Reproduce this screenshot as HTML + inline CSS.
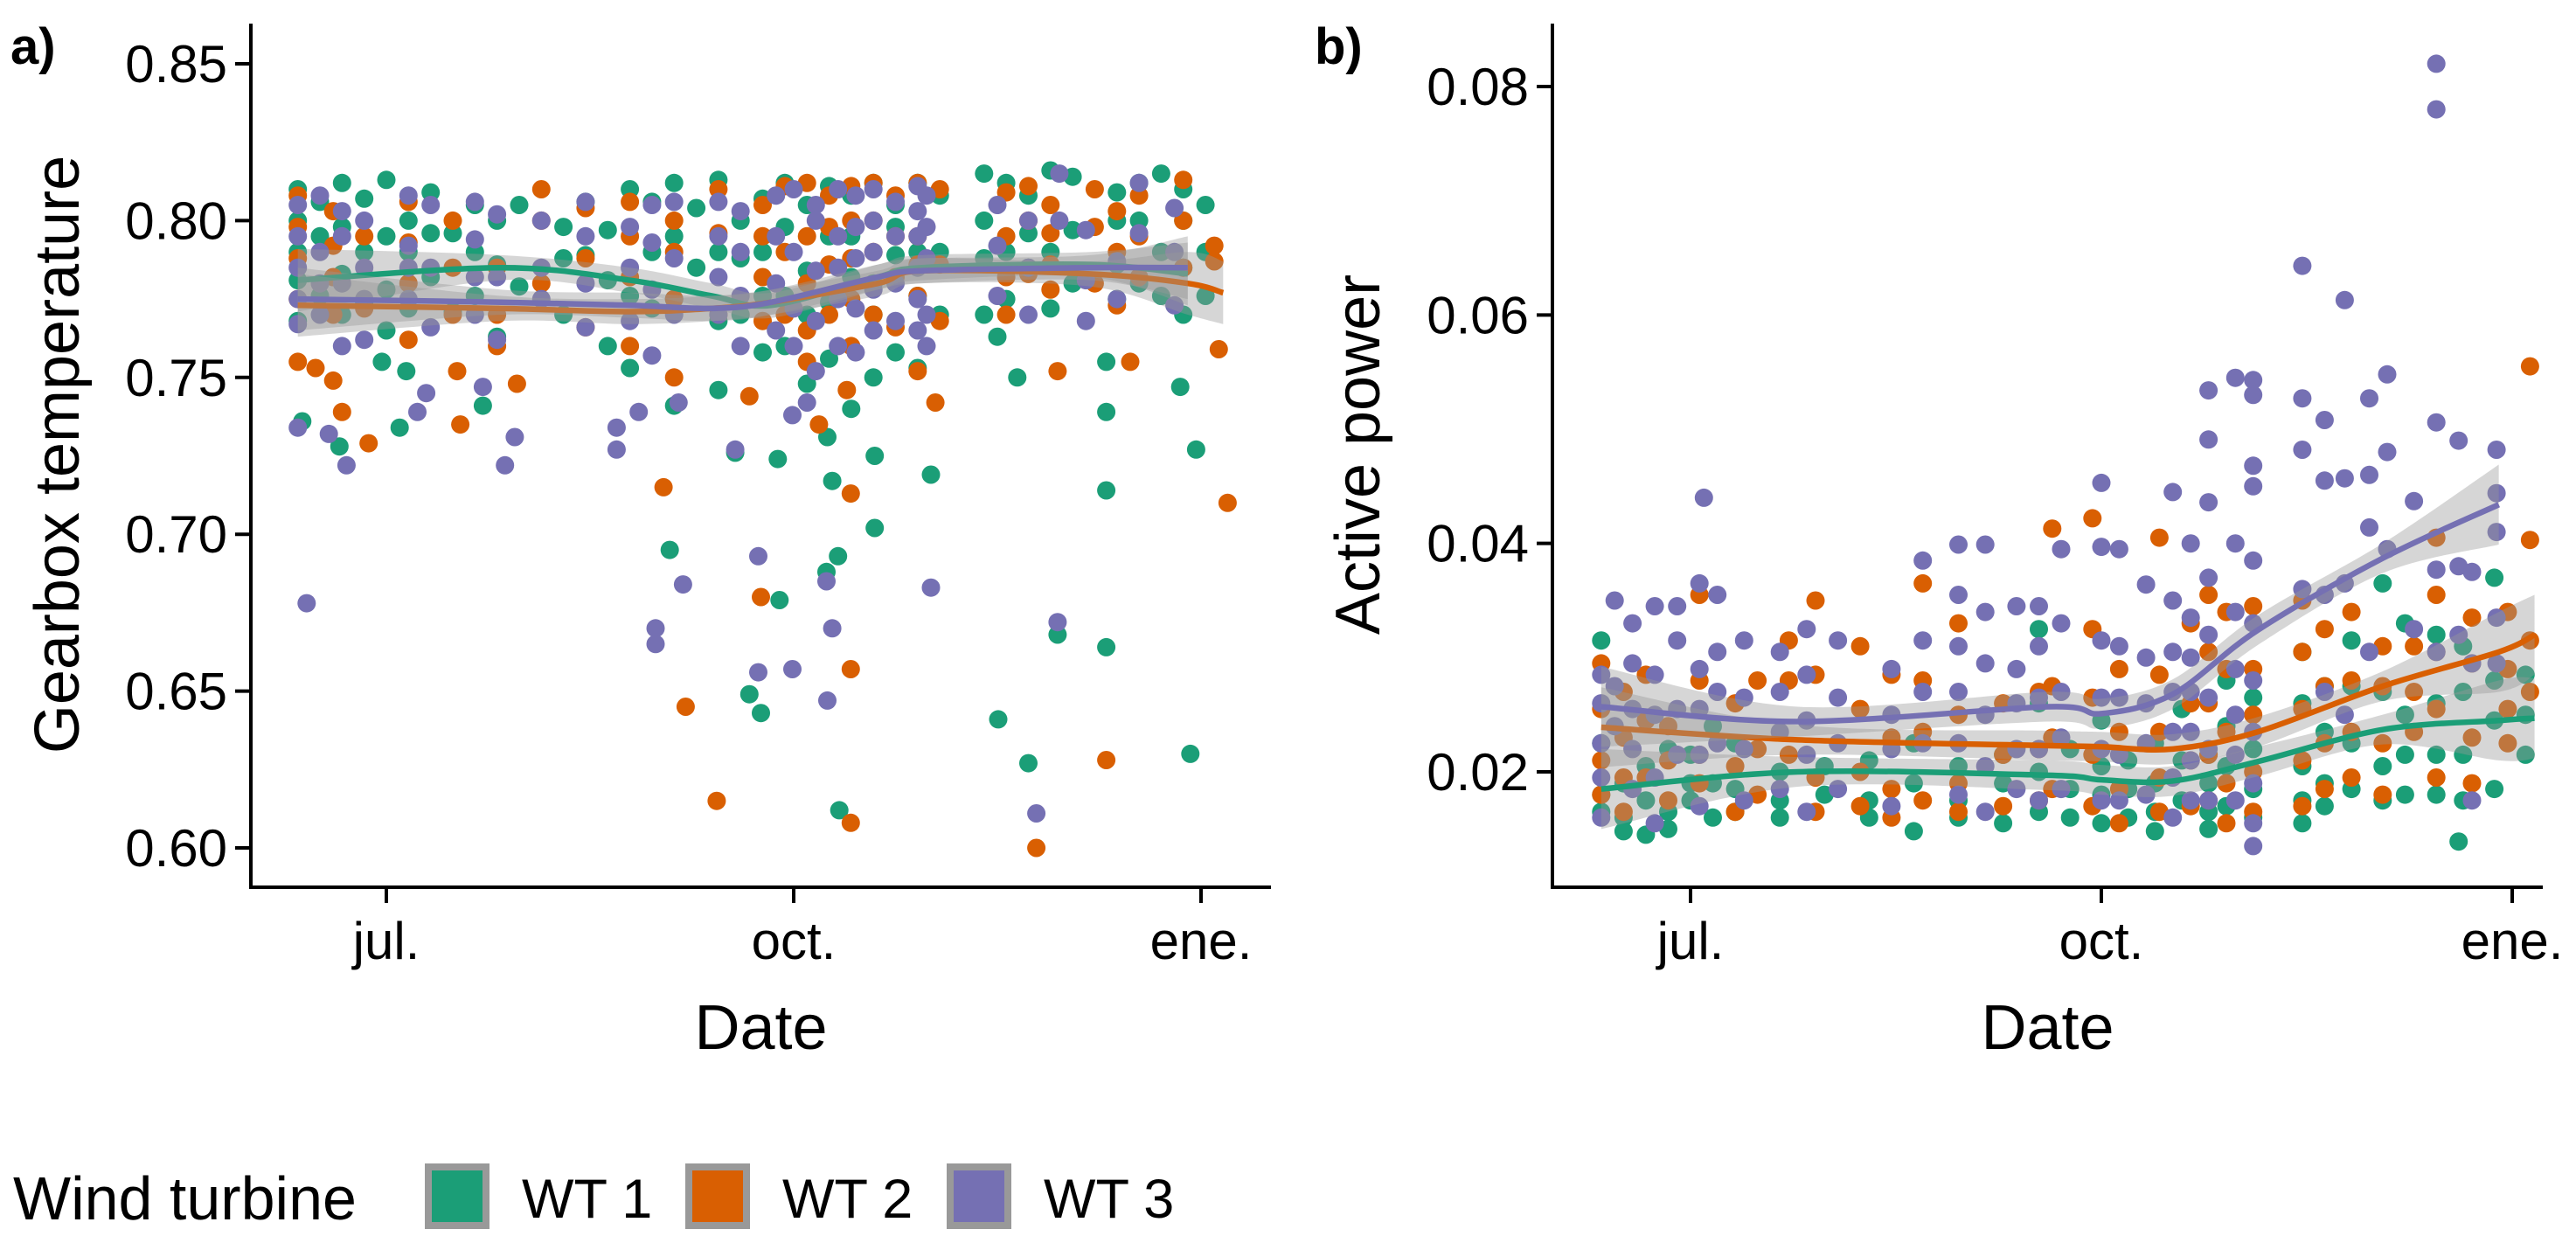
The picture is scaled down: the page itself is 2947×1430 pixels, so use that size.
<!DOCTYPE html>
<html><head><meta charset="utf-8"><style>
html,body{margin:0;padding:0;background:#fff;}
svg{display:block;font-family:"Liberation Sans",Arial,sans-serif;}
</style></head><body>
<svg id="fig" width="2947" height="1430" viewBox="0 0 2947 1430" xmlns="http://www.w3.org/2000/svg">
<rect width="2947" height="1430" fill="#fff"/>
<g id="pa"></g>
<g id="pb"></g>
<g id="legend">
  <text x="15" y="1395" font-size="70" fill="#000">Wind turbine</text>
  <g>
    <rect x="490" y="1335" width="66" height="67" fill="#1b9e77" stroke="#999" stroke-width="8"/>
    <text x="597" y="1393" font-size="63" fill="#000">WT 1</text></g>
  <g>
    <rect x="788" y="1335" width="66" height="67" fill="#d95f02" stroke="#999" stroke-width="8"/>
    <text x="895" y="1393" font-size="63" fill="#000">WT 2</text></g>
  <g>
    <rect x="1087" y="1335" width="66" height="67" fill="#7570b3" stroke="#999" stroke-width="8"/>
    <text x="1194" y="1393" font-size="63" fill="#000">WT 3</text></g>
</g>
</svg>
<script>
// ---- data (days from 1 Jul; each group = [day, values...]) ----
const colors = ["#1b9e77","#d95f02","#7570b3"];
const xTickLabels = ["jul.","oct.","ene."];
const xTickDays = [0,92,184];
const gearTicks = [0.60,0.65,0.70,0.75,0.80,0.85];
const powerTicks = [0.02,0.04,0.06,0.08];

const gearWT1 = [[-20,.810,.790,.781,.768,.800],[-15,.806,.795,.776],[-10,.812,.783,.770,.798],[-5,.807,.774,.790],[0,.813,.778,.765,.795],[5,.800,.790,.772],[10,.809,.782,.796],[15,.796,.771],[20,.805,.776,.790],[25,.800,.786,.763],[30,.805,.779],[40,.798,.770,.788],[45,.806,.789],[50,.781,.760,.797],[55,.810,.776,.753],[60,.806,.790,.772],[65,.812,.775,.741,.795],[70,.804,.785],[75,.813,.768,.746,.790],[80,.800,.770,.788],[85,.807,.790,.758,.776],[90,.812,.776,.760,.798],[95,.805,.784,.748,.770],[100,.811,.774,.756,.795],[105,.808,.795,.740,.782],[110,.812,.780,.750,.770],[115,.805,.789,.758,.798],[120,.812,.776,.753,.790],[125,.808,.790,.770],[135,.815,.800,.770,.788],[140,.812,.790,.775],[145,.808,.785,.796],[150,.816,.790,.772],[155,.814,.797,.780],[165,.809,.786,.775,.800],[170,.812,.800,.780],[175,.815,.790,.776],[180,.810,.785,.770,.800],[185,.805,.776,.790],
[64,.695],[78.8,.726],[82,.649],[84.6,.643],[88.4,.724],[88.8,.679],[99.6,.731],[100.7,.717],[102,.693],[99.4,.688],[102.3,.612],[110.3,.702,.725],[123,.719],[138.2,.641],[145,.627],[151.6,.668],[162.6,.714,.664,.739,.755],[182.9,.727],[181.6,.630],[179.3,.747],[142.5,.750],[138,.763],[-19,.736],[3,.734],[-1,.755],[4.5,.752],[21.8,.741],[-10.6,.728]];
const gearWT2 = [[-20,.808,.788,.775,.798],[-12,.803,.782,.770,.792],[-5,.795,.772],[5,.806,.780,.762,.793],[15,.800,.770,.785],[25,.785,.770,.760],[35,.810,.800,.780],[45,.804,.788,.766],[55,.806,.782,.760,.795],[65,.800,.775,.750,.790],[75,.810,.796,.770],[85,.805,.782,.768,.795],[90,.811,.790,.770],[95,.812,.795,.765,.755,.780],[100,.808,.786,.770,.798],[105,.811,.800,.775,.760,.788],[110,.812,.790,.770,.800],[115,.808,.782,.766,.795],[120,.812,.795,.776,.752,.786],[125,.810,.786,.768],[140,.809,.795,.770,.782],[145,.811,.800,.783],[150,.805,.786,.778,.796],[160,.810,.798,.780],[165,.803,.790,.773],[170,.808,.795,.782],[180,.813,.800,.785],[187,.792,.787],
[62.6,.715],[67.6,.645],[74.6,.615],[84.6,.680],[104.9,.713,.657,.608],[146.8,.600],[162.6,.628],[190,.710],[188,.759],[151.6,.752],[168,.755],[-20,.755],[-16,.753],[-12,.749],[-10,.739],[-4,.729],[16.7,.735],[16,.752],[82,.744],[97.7,.735],[124,.742],[104,.746],[29.5,.748]];
const gearWT3 = [[-20,.805,.785,.775,.767,.795],[-15,.808,.790,.770,.780],[-10,.803,.795,.780,.760],[-5,.800,.785,.775,.762],[5,.808,.792,.775,.785],[10,.805,.785,.766],[20,.806,.794,.770,.782],[25,.802,.782,.762],[35,.800,.785,.775],[45,.806,.795,.780,.766],[55,.798,.785,.768],[60,.805,.793,.778,.757],[65,.806,.788,.770],[75,.806,.795,.782,.770],[80,.803,.790,.776,.760],[88,.808,.795,.780,.765],[92,.810,.790,.772,.760],[97,.805,.800,.784,.768,.752],[102,.810,.795,.785,.775,.760],[106,.808,.798,.788,.772,.758],[110,.810,.800,.790,.778,.765],[115,.806,.795,.780,.768],[120,.811,.803,.795,.785,.775,.765],[122,.808,.798,.788,.770,.760],[138,.805,.792,.776],[145,.800,.785,.770],[152,.815,.800],[158,.797,.781,.768],[165,.787,.775],[170,.812,.796],[178,.804,.790,.773],
[-18,.678],[60.8,.670,.665],[67,.684],[84,.693,.656],[91.7,.657],[99.6,.647],[100.7,.670],[99.4,.685],[123,.683],[146.8,.611],[151.6,.672],[78.8,.727],[52,.734,.727],[26.8,.722],[-9,.722],[-13,.732],[-20,.734],[29,.731],[7,.739],[9,.745],[21.8,.747],[57,.739],[66,.742],[91.7,.738],[95,.742]];

const powerWT1 = [[-20,.0315,.0225,.018,.0165],[-15,.019,.016,.0148],[-10,.0205,.0175,.0145],[-5,.022,.0165,.015],[0,.0215,.019,.0175],[5,.024,.019,.016],[10,.0225,.0185,.0165],[20,.02,.0175,.016],[30,.0205,.018],[40,.021,.0175,.016],[50,.0225,.019,.0148],[60,.0205,.0175,.016],[70,.0215,.019,.0155],[78,.0325,.026,.02,.0165],[85,.022,.0185,.016],[92,.0245,.0205,.018,.0155],[98,.021,.0185,.016],[104,.0225,.019,.0165,.0148],[110,.0255,.021,.0175],[116,.0215,.019,.0165,.015],[120,.028,.024,.0205,.017],[126,.0265,.022,.0185,.016],[137,.0305,.026,.0205,.0175,.0155],[142,.0275,.0235,.019,.017],[148,.0315,.0275,.0225,.0185],[155,.0365,.027,.0205,.0175],[160,.033,.025,.0215,.018],[167,.032,.026,.0215,.018],[173,.031,.027,.0215,.0175],[180,.037,.028,.0245,.0185],[187,.025,.0285,.0215],[172,.0139]];
const powerWT2 = [[-20,.0295,.0255,.021,.018],[-15,.027,.023,.0195,.0165],[-10,.0285,.0245,.0195],[-5,.024,.021,.0175],[2,.0355,.028,.0215,.019],[10,.026,.0205,.0165],[15,.028,.022,.018],[22,.0315,.028,.0215],[28,.035,.0285,.0195,.0165],[38,.031,.0255,.02,.017],[45,.0285,.023,.0185,.016],[52,.0365,.028,.0235,.0175],[60,.033,.025,.019,.0165],[70,.026,.0215,.017],[78,.027,.022,.0175],[81,.0413,.0275,.023,.0185],[90,.0422,.0325,.0265,.0215,.017],[96,.029,.0235,.0185,.0155],[105,.0405,.0285,.0235,.0195,.0165],[112,.033,.026,.021,.017],[116,.0355,.0305,.026,.0215,.0175],[120,.034,.029,.0235,.019,.0155],[126,.0345,.029,.025,.02,.0165],[137,.035,.0305,.0255,.021,.017],[142,.0325,.0275,.0225,.0185],[148,.034,.028,.0235,.0195],[155,.031,.0275,.0225,.018],[162,.031,.027,.0235],[167,.0355,.0405,.0305,.0255,.0195],[175,.0335,.0295,.023,.019],[183,.034,.029,.0255,.0225],[188,.0555,.0403,.0315,.027]];
const powerWT3 = [[-20,.0285,.026,.0225,.0195,.016],[-17,.035,.0275,.024],[-13,.033,.0295,.0255,.022,.0185],[-8,.0345,.0285,.025,.0195,.0155],[-3,.0345,.0315,.0255,.0215],[2,.0365,.029,.0255,.0215,.017],[3,.044],[6,.0355,.0305,.027,.0225],[12,.0315,.0265,.022,.0175],[20,.0305,.027,.0235,.0185],[26,.0325,.0285,.0245,.0215,.0165],[33,.0315,.0265,.0225,.0185],[45,.029,.025,.022,.017],[52,.0385,.0315,.027,.0225],[60,.0399,.0355,.031,.027,.0225,.018],[66,.0399,.034,.0295,.025,.0205,.0165],[73,.0345,.029,.026,.022,.0185],[78,.0345,.031,.0265,.022,.0175],[83,.0395,.033,.027,.023,.0185],[92,.0453,.0397,.0315,.0265,.022,.0175],[96,.0395,.031,.0265,.0215,.0175],[102,.0364,.030,.026,.0225,.018],[108,.0445,.035,.0305,.027,.0235,.0195,.016],[112,.040,.0335,.030,.027,.0235,.021,.0175],[116,.0534,.0491,.0436,.037,.032,.0265,.022,.0175],[122,.0545,.04,.034,.029,.025,.0215,.0175],[126,.0543,.053,.0468,.045,.0385,.033,.028,.0235,.019,.0155,.0135],[137,.0643,.0527,.0482,.036],[142,.0508,.0455,.0355,.027],[146.5,.0613,.0457,.0365,.025],[152,.0527,.046,.0414,.0305],[156,.0548,.048,.0395],[162,.0437,.0325],[167,.082,.078,.0506,.0377,.0305],[172,.049,.038,.032],[175,.0375,.0295,.0175],[180.5,.0482,.0444,.041,.0335,.0295]];

const gearSmoothDays = [-20,26,55,73.5,87,111,121,159,181,189];
const gearSmoothWT1 = [.781,.785,.781,.776,.773,.782,.785,.786,.783,null];
const gearSmoothWT2 = [.773,.772,.771,.772,.774,.780,.784,.783,.780,.777];
const gearSmoothWT3 = [.775,.774,.773,.772,.774,.782,.784,.785,.785,null];
const powerSmoothDays = [-20,24,80,92,108,127,155,181,189];
const powerSmoothWT1 = [.0185,.0200,.0197,.0193,.0192,.0209,.0237,.0245,.0247];
const powerSmoothWT2 = [.0239,.0228,.0223,.0222,.0220,.0235,.0275,.0305,.0320];
const powerSmoothWT3 = [.0257,.0244,.0257,.0251,.0268,.0324,.0387,.0434,null];

const NS="http://www.w3.org/2000/svg";
function mk(tag,attrs,parent){const e=document.createElementNS(NS,tag);for(const k in attrs)e.setAttribute(k,attrs[k]);parent.appendChild(e);return e;}

function spline(pts){
  if(pts.length<2)return "";
  let d="M"+pts[0][0]+","+pts[0][1];
  for(let i=0;i<pts.length-1;i++){
    const p0=pts[i-1]||pts[i],p1=pts[i],p2=pts[i+1],p3=pts[i+2]||p2;
    const c1=[p1[0]+(p2[0]-p0[0])/6,p1[1]+(p2[1]-p0[1])/6];
    const c2=[p2[0]-(p3[0]-p1[0])/6,p2[1]-(p3[1]-p1[1])/6];
    d+=" C"+c1+" "+c2+" "+p2[0]+","+p2[1];
  }
  return d;
}

function panel(g,cfg){
  const X=d=>cfg.x0+(d-xTickDays[0])*(cfg.x1-cfg.x0)/(xTickDays[1]-xTickDays[0]);
  const Y=v=>cfg.yA+(v-cfg.vA)*(cfg.yB-cfg.yA)/(cfg.vB-cfg.vA);
  cfg.series.forEach((s,si)=>{
    const sg=mk("g",{},g);
    
    
    s.forEach(grp=>{for(let k=1;k<grp.length;k++){
      const c=mk("circle",{cx:X(grp[0]).toFixed(1),cy:Y(grp[k]).toFixed(1),r:10.5,fill:colors[si]},sg);
      
      
    }});
  });
  cfg.smooth.forEach((vals,si)=>{
    const pts=[],up=[],lo=[];
    vals.forEach((v,i)=>{if(v===null)return;const d=cfg.sDays[i];pts.push([X(d),Y(v)]);
      const n=cfg.sDays.length, edge=(i===0||i>=n-2)?cfg.ciEdge:cfg.ciMid;
      up.push([X(d),Y(v+edge)]);lo.push([X(d),Y(v-edge)]);});
    const band=mk("path",{d:spline(up)+" L"+spline(lo.slice().reverse()).slice(1)+" Z",fill:"#999",opacity:0.4},g);
    
    
    const ln=mk("path",{d:spline(pts),fill:"none",stroke:colors[si],"stroke-width":6.5},g);
    
    
  });
  const ax=mk("g",{stroke:"#000","stroke-width":4,fill:"none"},g);
  
  
  mk("path",{d:`M${cfg.ax},${cfg.top} V${cfg.ay} H${cfg.right}`},ax);
  xTickDays.forEach((d,i)=>{
    mk("line",{x1:X(d),x2:X(d),y1:cfg.ay,y2:cfg.ay+18},ax);
    const t=mk("text",{x:X(d),y:1097,"font-size":60,"text-anchor":"middle",fill:"#000"},g);
    t.textContent=xTickLabels[i];
    
    
  });
  cfg.ticks.forEach(v=>{
    mk("line",{x1:cfg.ax-18,x2:cfg.ax,y1:Y(v),y2:Y(v)},ax);
    const t=mk("text",{x:cfg.ax-27,y:Y(v)+21,"font-size":60,"text-anchor":"end",fill:"#000"},g);
    t.textContent=v.toFixed(cfg.dec);
    
    
  });
  const xt=mk("text",{x:(cfg.ax+cfg.right)/2,y:1200,"font-size":72,"text-anchor":"middle",fill:"#000"},g);
  xt.textContent="Date";
  
  
  const yt=mk("text",{x:0,y:0,"font-size":72,"text-anchor":"middle",fill:"#000",transform:`translate(${cfg.ytx},520) rotate(-90)`},g);
  yt.textContent=cfg.ytitle;
  
  
  const lb=mk("text",{x:cfg.lx,y:73,"font-size":58,"font-weight":"bold",fill:"#000"},g);
  lb.textContent=cfg.label;
  
  
}

panel(document.getElementById("pa"),{x0:442,x1:908,yA:970,vA:0.60,yB:73,vB:0.85,ax:287,ay:1015,top:27,right:1454,
  series:[gearWT1,gearWT2,gearWT3],smooth:[gearSmoothWT1,gearSmoothWT2,gearSmoothWT3],sDays:gearSmoothDays,
  ciMid:0.004,ciEdge:0.010,ticks:gearTicks,dec:2,ytitle:"Gearbox temperature",ytx:90,label:"a)",lx:12});
panel(document.getElementById("pb"),{x0:1934,x1:2404,yA:883,vA:0.02,yB:99,vB:0.08,ax:1776,ay:1015,top:27,right:2909,
  series:[powerWT1,powerWT2,powerWT3],smooth:[powerSmoothWT1,powerSmoothWT2,powerSmoothWT3],sDays:powerSmoothDays,
  ciMid:0.0013,ciEdge:0.0035,ticks:powerTicks,dec:2,ytitle:"Active power",ytx:1578,label:"b)",lx:1504});
</script>
</body></html>
